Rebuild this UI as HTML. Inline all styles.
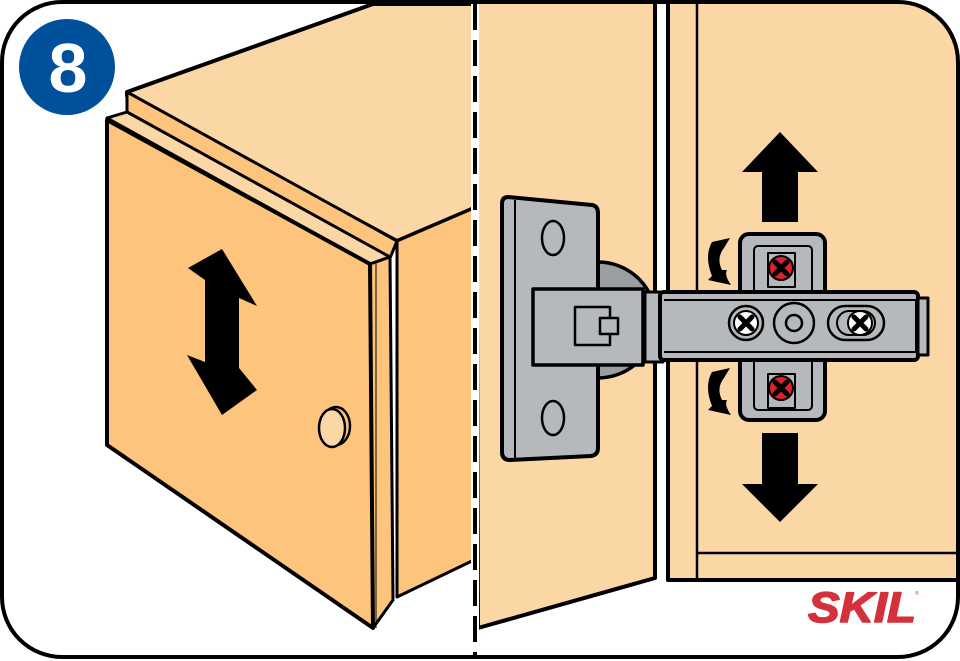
<!DOCTYPE html>
<html><head><meta charset="utf-8"><style>html,body{margin:0;padding:0;background:#fff}svg{display:block}</style></head><body>
<svg width="960" height="661" viewBox="0 0 960 661" xmlns="http://www.w3.org/2000/svg" stroke-linejoin="round">
<defs><clipPath id="c"><rect x="2" y="2" width="956" height="655" rx="60"/></clipPath></defs>
<g clip-path="url(#c)">
<polygon points="476,0 655,0 655,578 478,628" fill="#fcd7a6" stroke="#000" stroke-width="4"/>
<rect x="668" y="-5" width="300" height="585" fill="#fcd7a6" stroke="#000" stroke-width="4"/>
<line x1="697" y1="0" x2="697" y2="580" stroke="#000" stroke-width="2.5"/>
<line x1="697" y1="553" x2="960" y2="553" stroke="#000" stroke-width="2.5"/>
<polygon points="127,92 373,4 474,4 474,208 397,241 127,96" fill="#fcd7a6" stroke="#000" stroke-width="4"/>
<polygon points="397,241 474,208 474,560 397,597" fill="#fcc47c" stroke="#000" stroke-width="3"/>
<polygon points="127,92 127,112 390,258 397,241" fill="#fcc47c" stroke="#000" stroke-width="3"/>
<polygon points="107,118 127,112 390,257 370,264" fill="#fcd7a6" stroke="#000" stroke-width="3"/>
<polygon points="370,264 390,257 393,600 373,628" fill="#fcc47c" stroke="#000" stroke-width="3"/>
<line x1="376" y1="262" x2="376" y2="628" stroke="#000" stroke-width="1"/>
<polygon points="107,120 370,264 373,628 107,445" fill="#fcc47c" stroke="#000" stroke-width="4"/>
<ellipse cx="336" cy="426" rx="14" ry="19" fill="#fcc47c" stroke="#000" stroke-width="2.5"/>
<ellipse cx="332" cy="428" rx="13" ry="19" fill="#fcd7a6" stroke="#000" stroke-width="2.5"/>
<polygon points="222,249 257,306 239,298 239,368 257,390 222,415 187,355 205,362 205,280 188,268" fill="#000"/>
<line x1="475" y1="0" x2="475" y2="661" stroke="#fff" stroke-width="8"/>
<line x1="475" y1="0" x2="475" y2="661" stroke="#000" stroke-width="4" stroke-dasharray="26,10" stroke-dashoffset="-4"/>
<line x1="655" y1="0" x2="655" y2="578" stroke="#000" stroke-width="4"/>
<line x1="668" y1="0" x2="668" y2="580" stroke="#000" stroke-width="4"/>
<polygon points="780,132 818,172 798,172 798,222 762,222 762,172 742,172" fill="#000"/>
<polygon points="780,522 818,484 798,484 798,433 762,433 762,484 742,484" fill="#000"/>
<circle cx="598" cy="320" r="58" fill="#9a9ea1" stroke="#000" stroke-width="3.5"/>
<path d="M508,197 L592,205 Q598,206 598,213 L598,448 Q598,455 591,456 L510,460 Q502,460 502,452 L502,204 Q502,197 508,197 Z" fill="#b5b9bb" stroke="#000" stroke-width="4"/>
<line x1="515" y1="200" x2="515" y2="458" stroke="#000" stroke-width="2"/>
<ellipse cx="553" cy="238" rx="11" ry="17" fill="none" stroke="#000" stroke-width="2.5"/>
<ellipse cx="553" cy="418" rx="11" ry="17" fill="none" stroke="#000" stroke-width="2.5"/>
<rect x="533" y="289" width="110" height="76" fill="#b5b9bb" stroke="#000" stroke-width="3.5"/>
<rect x="575" y="307" width="35" height="38" fill="#b5b9bb" stroke="#000" stroke-width="2.5"/>
<rect x="600" y="318" width="18" height="16" fill="#b5b9bb" stroke="#000" stroke-width="2.5"/>
<rect x="645" y="292" width="18" height="70" fill="#b5b9bb" stroke="#000" stroke-width="3"/>
<rect x="740" y="234" width="85" height="186" rx="9" fill="#b5b9bb" stroke="#000" stroke-width="4"/>
<rect x="754" y="246" width="58" height="52" rx="4" fill="none" stroke="#000" stroke-width="2"/>
<rect x="754" y="358" width="58" height="52" rx="4" fill="none" stroke="#000" stroke-width="2"/>
<rect x="768" y="253" width="27" height="34" fill="none" stroke="#000" stroke-width="2"/>
<rect x="768" y="374" width="27" height="34" fill="none" stroke="#000" stroke-width="2"/>
<rect x="660" y="292" width="258" height="68" rx="4" fill="#b5b9bb" stroke="#000" stroke-width="4"/>
<rect x="918" y="298" width="10" height="57" fill="#b5b9bb" stroke="#000" stroke-width="3"/>
<line x1="664" y1="300" x2="916" y2="300" stroke="#000" stroke-width="2"/>
<line x1="664" y1="352" x2="916" y2="352" stroke="#000" stroke-width="2"/>
<line x1="916" y1="300" x2="916" y2="352" stroke="#000" stroke-width="2"/>
<g stroke="#000">
<circle cx="781" cy="268" r="12" fill="#e0202a" stroke-width="2"/>
<circle cx="781" cy="388" r="12" fill="#e0202a" stroke-width="2"/>
<circle cx="746" cy="323" r="17" fill="#b5b9bb" stroke-width="2.5"/>
<circle cx="746" cy="323" r="12" fill="#fff" stroke-width="2"/>
<circle cx="794" cy="323" r="20" fill="#b5b9bb" stroke-width="2.5"/>
<circle cx="794" cy="323" r="8" fill="#b5b9bb" stroke-width="2.5"/>
<rect x="828" y="306" width="56" height="34" rx="17" fill="#b5b9bb" stroke-width="2.5"/>
<rect x="837" y="311" width="38" height="24" rx="12" fill="#b5b9bb" stroke-width="2"/>
<circle cx="860" cy="323" r="12" fill="#fff" stroke-width="2"/>
</g>
<g stroke-width="5" stroke-linecap="round">
<path d="M775,262 l12,12 M787,262 l-12,12" stroke="#000"/>
<path d="M775,382 l12,12 M787,382 l-12,12" stroke="#000"/>
<path d="M740,317 l12,12 M752,317 l-12,12" stroke="#000"/>
<path d="M854,317 l12,12 M866,317 l-12,12" stroke="#000"/>
</g>
<g fill="#000">
<path d="M730,238 L712,242 Q704,256 712,276 L708,280 L731,285 Q724,275 727,270 L722,270 Q716,258 724,248 Z"/>
<path d="M730,368 L712,372 Q704,386 712,406 L708,410 L731,415 Q724,405 727,400 L722,400 Q716,388 724,378 Z"/>
</g>
</g>
<rect x="2" y="2" width="956" height="655" rx="60" fill="none" stroke="#000" stroke-width="4"/>
<circle cx="67" cy="67" r="48" fill="#00509c"/>
<text x="68" y="92" text-anchor="middle" font-family="Liberation Sans, sans-serif" font-weight="bold" font-size="70" fill="#fff">8</text>
<text x="808" y="622" font-family="Liberation Sans, sans-serif" font-weight="bold" font-style="italic" font-size="43" fill="#d4313b" stroke="#d4313b" stroke-width="1.5" textLength="108" lengthAdjust="spacingAndGlyphs">SKIL</text>
<text x="915" y="595" font-family="Liberation Sans, sans-serif" font-size="5" fill="#d4313b">®</text>
</svg>
</body></html>
